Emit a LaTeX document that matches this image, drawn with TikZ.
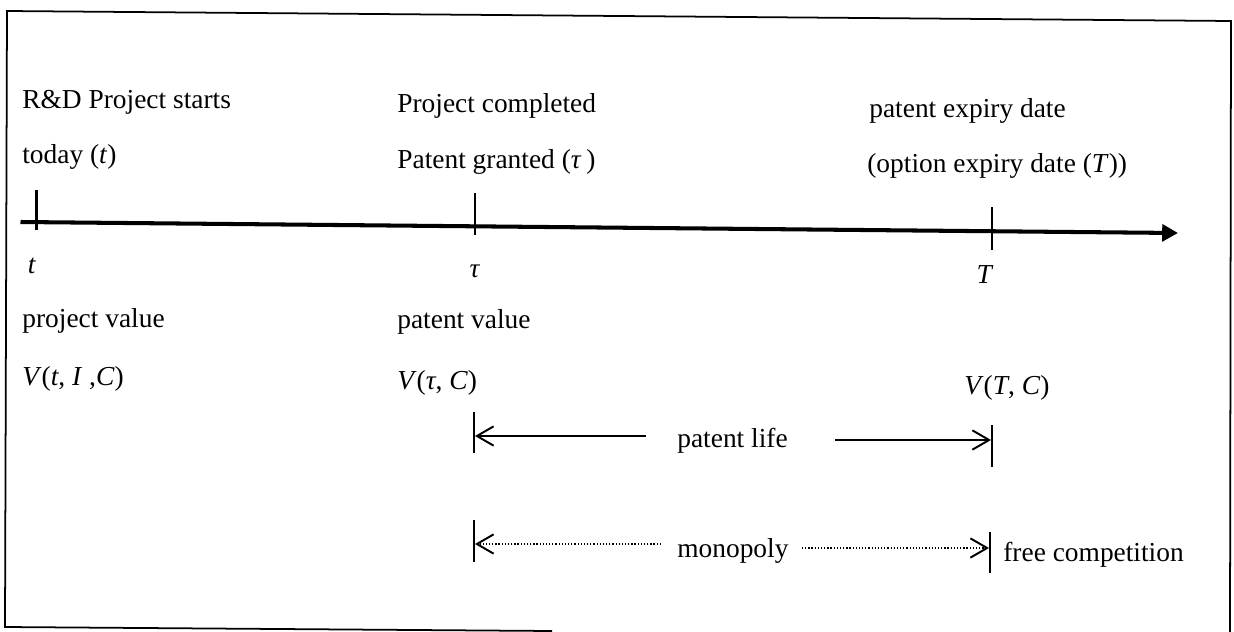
\documentclass[tikz,border=0pt]{standalone}
\usepackage{fontspec}
\setmainfont{Liberation Serif}
\usetikzlibrary{arrows.meta}

\begin{document}
\begin{tikzpicture}[x=0.02cm, y=-0.02cm,
  txt/.style={anchor=base west, inner sep=0pt, font=\fontsize{15.6}{18}\selectfont},
  ctxt/.style={anchor=base, inner sep=0pt, font=\fontsize{15.6}{18}\selectfont},
  frameline/.style={line width=1pt, line join=miter},
  axisline/.style={line width=2.3pt, -{Triangle[length=9pt, width=9.5pt]}},
  tickline/.style={line width=1.2pt},
  barline/.style={line width=1.1pt},
  spanarrow/.style={line width=1.1pt,
    -{Straight Barb[length=9.5pt, width=11pt, line width=1.1pt]}},
  dotarrow/.style={line width=0.8pt, dash pattern=on 0.7pt off 1.1pt,
    -{Straight Barb[length=9.5pt, width=11pt, line width=1.1pt]}},
]
\useasboundingbox (0,0) rectangle (1234,632);

% outer frame
\coordinate (fbl) at (5,627);
\coordinate (ftl) at (7,11);
\coordinate (ftr) at (1231,21);
\coordinate (fbr) at (1230,632);
\coordinate (fbe) at (552,631);
\draw[frameline] (fbe) -- (fbl) -- (ftl) -- (ftr) -- (fbr);

% time axis
\coordinate (ax0) at (20.5,222);
\coordinate (ax1) at (1178,233);
\draw[axisline] (ax0) -- (ax1);

% ticks on the axis
\coordinate (tt0) at (36.5,190);  \coordinate (tt1) at (36.5,230);
\coordinate (ut0) at (475,193);   \coordinate (ut1) at (475,235);
\coordinate (Tt0) at (992,207);   \coordinate (Tt1) at (992,250);
\draw[tickline] (tt0) -- (tt1);
\draw[tickline] (ut0) -- (ut1);
\draw[tickline] (Tt0) -- (Tt1);

% labels above the axis
\node[txt] (start)    at (22,108)  {R\&D Project starts};
\node[txt] (today)    at (22,163)  {today (\textit{t})};
\node[txt] (done)     at (397,112) {Project completed};
\node[txt] (granted)  at (397,168) {Patent granted (\textit{τ}\hspace{0.18em})};
\node[txt] (expiry)   at (869,117) {patent expiry date};
\node[txt] (optexp)   at (867,172) {(option expiry date (\textit{T}))};

% labels below the axis
\node[ctxt] (lt)   at (32,273)  {\textit{t}};
\node[ctxt] (ltau) at (475,277) {\textit{τ}};
\node[ctxt] (lT)   at (985,283) {\textit{T}};

\node[txt] (pv)   at (22,327)  {project value};
\node[txt] (patv) at (397,328) {patent value};
\node[txt] (vt)   at (22,385)  {\textit{V}(\textit{t}, \textit{I} ,\textit{C})};
\node[txt] (vtau) at (397,389) {\textit{V}(\textit{τ}, \textit{C})};
\node[txt] (vT)   at (964,394) {\textit{V}(\textit{T}, \textit{C})};

% patent life span
\coordinate (pl0) at (474,412); \coordinate (pl1) at (474,453);
\coordinate (pr0) at (992,425); \coordinate (pr1) at (992,467);
\draw[barline] (pl0) -- (pl1);
\draw[barline] (pr0) -- (pr1);
\node[txt] (life) at (677,447) {patent life};
\coordinate (pla) at (646,436); \coordinate (plb) at (475,436);
\coordinate (pra) at (835,440); \coordinate (prb) at (991,440);
\draw[spanarrow] (pla) -- (plb);
\draw[spanarrow] (pra) -- (prb);

% monopoly span
\coordinate (ml0) at (474,520); \coordinate (ml1) at (474,562);
\coordinate (mr0) at (990,532); \coordinate (mr1) at (990,573);
\draw[barline] (ml0) -- (ml1);
\draw[barline] (mr0) -- (mr1);
\node[txt] (mono) at (677,557) {monopoly};
\node[txt] (free) at (1003,561) {free competition};
\coordinate (mla) at (661,544); \coordinate (mlb) at (475,544);
\coordinate (mra) at (802,548); \coordinate (mrb) at (989,548);
\draw[dotarrow] (mla) -- (mlb);
\draw[dotarrow] (mra) -- (mrb);
\end{tikzpicture}
\end{document}
